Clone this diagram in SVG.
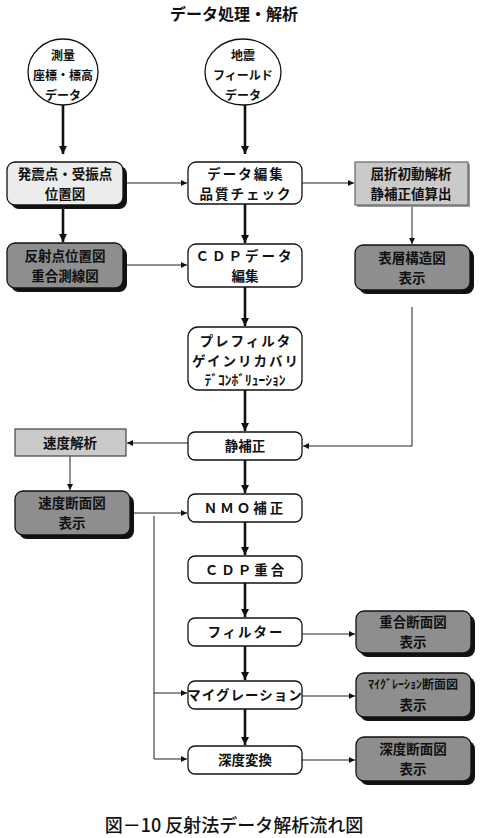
<svg xmlns="http://www.w3.org/2000/svg" width="482" height="838" viewBox="0 0 482 838">
<style>
text{font-family:"Noto Sans CJK JP","Noto Sans",sans-serif;font-weight:bold;fill:#111;text-anchor:middle}
.t14{font-size:13.5px}
.t12{font-size:12px}
.sp{letter-spacing:2px}
.white{fill:#fff;stroke:#111;stroke-width:1.3}
.light{fill:#ececec;stroke:#111;stroke-width:1.3}
.dark{fill:#8e8e8e;stroke:#111;stroke-width:1.3}
.gray{fill:#cacaca;stroke:#666;stroke-width:1.2}
.shadow{fill:#111}
.lshadow{fill:#9a9a9a}
.thick{stroke:#111;stroke-width:2.6;fill:none}
.thin{stroke:#222;stroke-width:1;fill:none}
</style>
<defs>
<marker id="ah" markerUnits="userSpaceOnUse" markerWidth="10" markerHeight="10" refX="8" refY="4" orient="auto"><path d="M0,0 L8,4 L0,8 z" fill="#111"/></marker>
<marker id="as" markerUnits="userSpaceOnUse" markerWidth="8" markerHeight="8" refX="6" refY="3" orient="auto"><path d="M0,0 L6,3 L0,6 z" fill="#111"/></marker>
</defs>
<rect width="482" height="838" fill="#fff"/>
<text x="234" y="20" style="font-size:16px">データ処理・解析</text>

<g id="connectors">
<path class="thick" d="M63,105 V154" marker-end="url(#ah)"/>
<path class="thick" d="M245,105 V154" marker-end="url(#ah)"/>
<path class="thick" d="M63,205 V242" marker-end="url(#ah)"/>
<path class="thick" d="M245,204 V243" marker-end="url(#ah)"/>
<path class="thin" d="M412,205 V244" marker-end="url(#as)"/>
<path class="thin" d="M123,183 H187" marker-end="url(#as)"/>
<path class="thin" d="M302,183 H354" marker-end="url(#as)"/>
<path class="thin" d="M123,265 H187" marker-end="url(#as)"/>
<path class="thick" d="M245,287 V326" marker-end="url(#ah)"/>
<path class="thin" d="M412,307 V446 H303" marker-end="url(#as)"/>
<path class="thick" d="M245,390 V431" marker-end="url(#ah)"/>
<path class="thin" d="M188,443 H127" marker-end="url(#as)"/>
<path class="thin" d="M70,456 V490" marker-end="url(#as)"/>
<path class="thick" d="M245,460 V493" marker-end="url(#ah)"/>
<path class="thin" d="M130,513 H187" marker-end="url(#as)"/>
<path class="thin" d="M154,516 V759 H187" marker-end="url(#as)"/>
<path class="thin" d="M154,693 H187" marker-end="url(#as)"/>
<path class="thick" d="M245,522 V555" marker-end="url(#ah)"/>
<path class="thick" d="M245,583 V617" marker-end="url(#ah)"/>
<path class="thin" d="M302,634 H355" marker-end="url(#as)"/>
<path class="thick" d="M245,646 V680" marker-end="url(#ah)"/>
<path class="thin" d="M302,696 H355" marker-end="url(#as)"/>
<path class="thick" d="M245,709 V745" marker-end="url(#ah)"/>
<path class="thin" d="M302,760 H355" marker-end="url(#as)"/>
</g>

<g id="survey">
<ellipse cx="63" cy="72" rx="35" ry="33" fill="#fff" stroke="#111" stroke-width="1.3"/>
<text class="t12" x="63" y="60">測量</text>
<text class="t12" x="63" y="80">座標・標高</text>
<text class="t12" x="63" y="100">データ</text>
</g>
<g id="field">
<ellipse cx="243" cy="72" rx="38" ry="33" fill="#fff" stroke="#111" stroke-width="1.3"/>
<text class="t12" x="243" y="60">地震</text>
<text class="t12" x="243" y="80">フィールド</text>
<text class="t12" x="243" y="100">データ</text>
</g>

<g id="shotpos">
<rect class="shadow" x="11" y="166" width="116" height="43" rx="8"/>
<rect class="light" x="7" y="162" width="116" height="43" rx="8"/>
<text class="t14" x="65" y="179">発震点・受振点</text>
<text class="t14" x="65" y="199">位置図</text>
</g>
<g id="edit">
<rect class="white" x="188" y="162" width="114" height="42" rx="8"/>
<text class="t14 sp" x="246" y="179">データ編集</text>
<text class="t14 sp" x="246" y="199">品質チェック</text>
</g>
<g id="refraction">
<rect class="lshadow" x="357" y="164" width="113" height="43"/>
<rect class="gray" x="355" y="162" width="113" height="43"/>
<text class="t14" x="411" y="179">屈折初動解析</text>
<text class="t14" x="411" y="199">静補正値算出</text>
</g>
<g id="reflpos">
<rect class="shadow" x="11" y="247" width="116" height="45" rx="8"/>
<rect class="dark" x="7" y="243" width="116" height="45" rx="8"/>
<text class="t14" x="65" y="261">反射点位置図</text>
<text class="t14" x="65" y="281">重合測線図</text>
</g>
<g id="cdpedit">
<rect class="white" x="188" y="244" width="114" height="43" rx="8"/>
<text class="t14" x="245" y="261" style="letter-spacing:3px">ＣＤＰデータ</text>
<text class="t14" x="245" y="281">編集</text>
</g>
<g id="surface">
<rect class="shadow" x="359" y="249" width="115" height="45" rx="8"/>
<rect class="dark" x="355" y="245" width="115" height="45" rx="8"/>
<text class="t14" x="412" y="263">表層構造図</text>
<text class="t14" x="412" y="283">表示</text>
</g>
<g id="prefilter">
<rect class="white" x="188" y="327" width="114" height="63" rx="10"/>
<text class="t14 sp" x="246" y="346">プレフィルタ</text>
<text class="t14 sp" x="246" y="366">ゲインリカバリ</text>
<text class="t14" x="245" y="385">ﾃﾞｺﾝﾎﾞﾘｭｰｼｮﾝ</text>
</g>
<g id="static">
<rect class="white" x="188" y="432" width="114" height="28" rx="7"/>
<text class="t14" x="245" y="451">静補正</text>
</g>
<g id="velana">
<rect class="gray" x="15" y="429" width="111" height="27" style="stroke:#444"/>
<text class="t14" x="70" y="448">速度解析</text>
</g>
<g id="velsec">
<rect class="shadow" x="19" y="495" width="115" height="44" rx="8"/>
<rect class="dark" x="15" y="491" width="115" height="44" rx="8"/>
<text class="t14" x="72" y="508">速度断面図</text>
<text class="t14" x="72" y="528">表示</text>
</g>
<g id="nmo">
<rect class="white" x="188" y="494" width="114" height="28" rx="7"/>
<text class="t14" x="245" y="513" style="letter-spacing:3px">ＮＭＯ補正</text>
</g>
<g id="stack">
<rect class="white" x="188" y="556" width="114" height="27" rx="7"/>
<text class="t14" x="246" y="575" style="letter-spacing:3px">ＣＤＰ重合</text>
</g>
<g id="filter">
<rect class="white" x="188" y="618" width="114" height="28" rx="7"/>
<text class="t14 sp" x="246" y="637">フィルター</text>
</g>
<g id="stacksec">
<rect class="shadow" x="360" y="615" width="115" height="42" rx="8"/>
<rect class="dark" x="356" y="611" width="115" height="42" rx="8"/>
<text class="t14" x="413" y="627">重合断面図</text>
<text class="t14" x="413" y="647">表示</text>
</g>
<g id="migration">
<rect class="white" x="188" y="681" width="114" height="28" rx="7"/>
<text class="t14" x="245" y="700" style="letter-spacing:1px">マイグレーション</text>
</g>
<g id="migsec">
<rect class="shadow" x="360" y="677" width="115" height="44" rx="8"/>
<rect class="dark" x="356" y="673" width="115" height="44" rx="8"/>
<text class="t12" x="413" y="689">ﾏｲｸﾞﾚｰｼｮﾝ断面図</text>
<text class="t14" x="413" y="710">表示</text>
</g>
<g id="depth">
<rect class="white" x="188" y="746" width="114" height="28" rx="7"/>
<text class="t14" x="245" y="765">深度変換</text>
</g>
<g id="depthsec">
<rect class="shadow" x="360" y="741" width="115" height="44" rx="8"/>
<rect class="dark" x="356" y="737" width="115" height="44" rx="8"/>
<text class="t14" x="413" y="754">深度断面図</text>
<text class="t14" x="413" y="774">表示</text>
</g>

<text x="234" y="832" style="font-size:18px;font-weight:500">図－10 反射法データ解析流れ図</text>
</svg>
